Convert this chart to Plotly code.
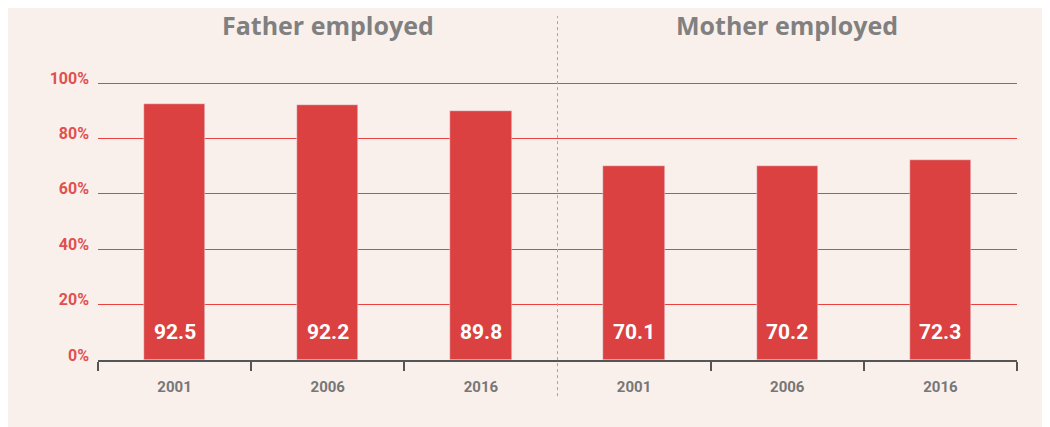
import plotly.graph_objects as go

# data
groups = ["Father employed", "Mother employed"]
years = ["2001", "2006", "2016"]
father = [92.5, 92.2, 89.8]
mother = [70.1, 70.2, 72.3]
y_ticks = [0, 20, 40, 60, 80, 100]

values = father + mother
labels = years + years
xpos = list(range(len(values)))

bar_red = "#db4140"
grid_red = "#e8413f"
bg = "#faf0eb"
narrow = "Roboto, sans-serif"

fig = go.Figure()
fig.add_trace(go.Bar(x=xpos, y=values, marker_color=bar_red, width=0.4,
                     hoverinfo="skip"))

# value labels near the base of each bar
for x, v in zip(xpos, values):
    fig.add_annotation(x=x, y=0, yanchor="bottom", yshift=14, showarrow=False,
                       text=f"{v:.1f}",
                       font=dict(family=narrow, size=21, color="white",
                                 weight="bold"))

# group titles
n = len(years)
for i, g in enumerate(groups):
    fig.add_annotation(x=i * n + (n - 1) / 2, xref="x", y=1.205, yref="paper",
                       yanchor="middle", showarrow=False, text=g,
                       font=dict(family="Open Sans", size=25, color="#808080",
                                 weight="bold"))

# dotted divider between groups
fig.add_shape(type="line", xref="x", yref="paper", x0=n - 0.5, x1=n - 0.5,
              y0=-0.13, y1=1.237, line=dict(color="#a8a4a2", width=1, dash="dot"))

boundaries = [b - 0.5 for b in range(len(values) + 1) if b != n]

fig.update_layout(
    width=1042, height=427,
    margin=dict(l=90, r=33, t=74, b=75),
    paper_bgcolor=bg, plot_bgcolor=bg,
    showlegend=False,
    bargap=0,
    xaxis=dict(
        range=[-0.5, len(values) - 0.5],
        tickmode="array", tickvals=xpos, ticktext=labels,
        ticks="outside", ticklen=12, tickcolor="rgba(0,0,0,0)",
        tickfont=dict(family=narrow, size=15, color="#777777", weight="bold"),
        showline=True, linecolor="#555555", linewidth=2,
        showgrid=False, zeroline=False,
        minor=dict(tickmode="array", tickvals=boundaries, ticks="outside",
                   ticklen=9, tickwidth=2, tickcolor="#555555", showgrid=False),
    ),
    yaxis=dict(
        range=[0, 100.4], tickmode="array", tickvals=y_ticks,
        ticktext=[f"{t}%" for t in y_ticks],
        showgrid=True, gridcolor=grid_red, gridwidth=1,
        zeroline=False, ticks="", ticklabelstandoff=8, ticklabelshift=-5,
        tickfont=dict(family=narrow, size=16, color="#e05050", weight="bold"),
    ),
)

fig.write_html("out.html")
